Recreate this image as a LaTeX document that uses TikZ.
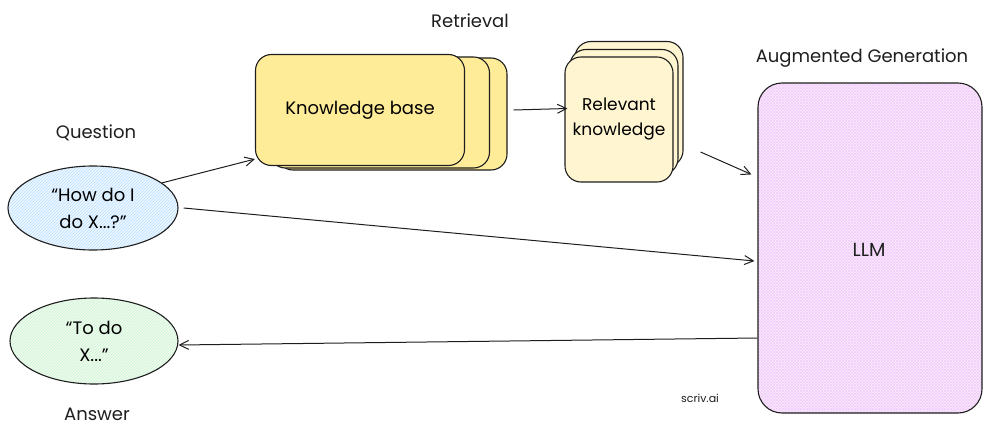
\documentclass[tikz,border=0pt]{standalone}
\usepackage{fontspec}
\setmainfont{Poppins}
\usetikzlibrary{arrows.meta,shapes.geometric,patterns}
\definecolor{kbfill}{HTML}{FFEC99}
\definecolor{rkfill}{HTML}{FFF6D1}
\definecolor{llmpale}{HTML}{FBEDFD}
\definecolor{llmline}{HTML}{F2CCFB}
\definecolor{qpale}{HTML}{EDF6FF}
\definecolor{qline}{HTML}{BCE1FF}
\definecolor{apale}{HTML}{F0FBF1}
\definecolor{aline}{HTML}{C9F5CF}
\definecolor{ink}{HTML}{1E1E1E}
\begin{document}
\begin{tikzpicture}[x=1pt,y=-1pt,
  card/.style={draw=ink, line width=1.1pt, rounded corners=16pt, inner sep=0pt},
  bubble/.style={ellipse, draw=ink, line width=1.1pt, inner sep=0pt, align=center, font=\fontsize{18}{27}\selectfont},
  lbl/.style={font=\fontsize{18}{21}\selectfont, text=ink},
  conn/.style={draw=ink, line width=1pt, -{Straight Barb[length=9pt,width=9pt,line width=1pt]}}
]
\useasboundingbox (0,0) rectangle (993,436);

% Knowledge base stack
\node[card, fill=kbfill, minimum width=230pt, minimum height=112pt] (kb3) at (392,114) {};
\node[card, fill=kbfill, minimum width=220pt, minimum height=111pt] (kb2) at (379.5,112.5) {};
\node[card, fill=kbfill, minimum width=209pt, minimum height=111pt, font=\fontsize{18}{21}\selectfont] (kb) at (360,110) {Knowledge base};

% Relevant knowledge stack
\node[card, fill=rkfill, minimum width=108pt, minimum height=125pt] (rk3) at (629,104) {};
\node[card, fill=rkfill, minimum width=108pt, minimum height=125pt] (rk2) at (624,112) {};
\node[card, fill=rkfill, minimum width=108pt, minimum height=125pt, align=center, font=\fontsize{17}{25}\selectfont] (rk) at (619,119.5) {Relevant\\knowledge};

% LLM
\node[card, rounded corners=24pt, preaction={fill=llmpale}, pattern=crosshatch, pattern color=llmline, minimum width=224pt, minimum height=330pt] (llm) at (870,248) {};
\node[lbl, font=\fontsize{19}{22}\selectfont] (llmt) at (869,250) {LLM};

% Question / Answer
\node[bubble, preaction={fill=qpale}, pattern=north east lines, pattern color=qline, minimum width=170pt, minimum height=84pt] (q) at (93,208) {``How do I\\do X...?''};
\node[bubble, preaction={fill=apale}, pattern=north east lines, pattern color=aline, minimum width=168pt, minimum height=86pt] (ans) at (94,341) {``To do\\X...''};

% Labels
\node[lbl] (lret) at (470,21) {Retrieval};
\node[lbl] (laug) at (862,58) {Augmented Generation};
\node[lbl] (lq) at (96,133) {Question};
\node[lbl] (la) at (97,414) {Answer};
\node[lbl, font=\fontsize{11}{13}\selectfont] (ls) at (700,398) {scriv.ai};

% Connectors
\draw[conn] (q.20) -- ([yshift=7pt]kb.south west);
\draw[conn] ([xshift=6pt,yshift=4pt]kb3.east) -- ([xshift=3pt,yshift=11pt]rk.west);
\draw[conn] ([xshift=17pt,yshift=-48pt]rk3.east) -- ([xshift=-6pt,yshift=-92pt]llm.north west);
\draw[conn] ([xshift=5pt]q.east) -- ([xshift=-3pt,yshift=-13pt]llm.west);
\draw[conn] ([yshift=-90pt]llm.west) -- ([yshift=-4pt]ans.east);
\end{tikzpicture}
\end{document}
